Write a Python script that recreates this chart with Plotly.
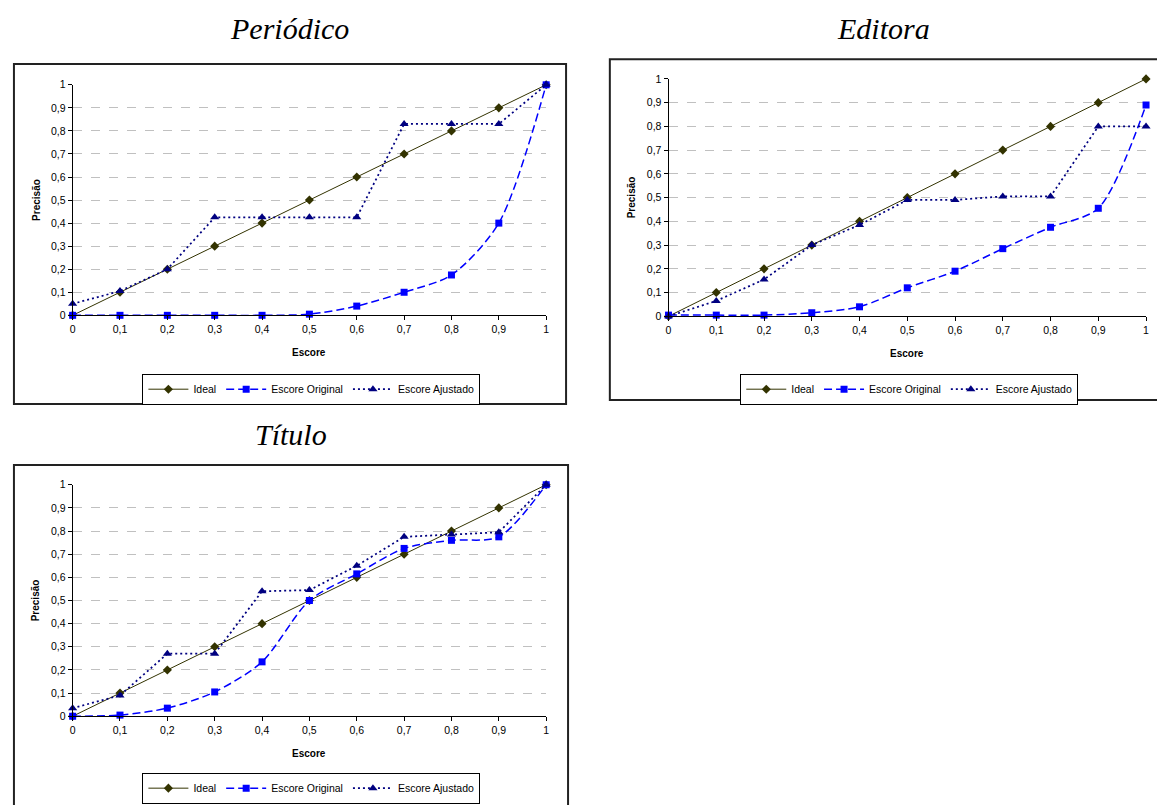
import plotly.graph_objects as go

# ---------------- data ----------------
x_vals = [0, 0.1, 0.2, 0.3, 0.4, 0.5, 0.6, 0.7, 0.8, 0.9, 1.0]
tick_labels = ["0", "0,1", "0,2", "0,3", "0,4", "0,5", "0,6", "0,7", "0,8", "0,9", "1"]
ideal = [0, 0.1, 0.2, 0.3, 0.4, 0.5, 0.6, 0.7, 0.8, 0.9, 1.0]

per_original = [0.0, 0.0, 0.0, 0.0, 0.0, 0.005, 0.04, 0.10, 0.175, 0.40, 1.0]
per_ajustado = [0.05, 0.105, 0.20, 0.425, 0.425, 0.425, 0.425, 0.83, 0.83, 0.83, 1.0]

edi_original = [0.005, 0.005, 0.005, 0.015, 0.04, 0.12, 0.19, 0.285, 0.375, 0.455, 0.89]
edi_ajustado = [0.0, 0.065, 0.155, 0.30, 0.385, 0.49, 0.49, 0.505, 0.505, 0.80, 0.80]

tit_original = [0.0, 0.005, 0.035, 0.105, 0.235, 0.50, 0.615, 0.725, 0.76, 0.775, 1.0]
tit_ajustado = [0.035, 0.09, 0.27, 0.27, 0.54, 0.545, 0.65, 0.775, 0.785, 0.795, 1.0]

series_names = ["Ideal", "Escore Original", "Escore Ajustado"]
panel_titles = ["Periódico", "Editora", "Título"]

W, H = 1157, 805


def px(x):
    return x / W


def py(y):
    return 1 - y / H


# panel geometry (pixels): plot area and outer box
panels = [
    dict(title=panel_titles[0], orig=per_original, adj=per_ajustado,
         plot=(70, 546, 80, 314), box=(11, 566, 59, 404),
         title_pos=(288, 23), legend_y=389),
    dict(title=panel_titles[1], orig=edi_original, adj=edi_ajustado,
         plot=(669, 1149, 74, 315), box=(610, 1165, 54, 400),
         title_pos=(885, 23), legend_y=389),
    dict(title=panel_titles[2], orig=tit_original, adj=tit_ajustado,
         plot=(70, 546, 486, 721), box=(11, 568, 466, 815),
         title_pos=(289, 435), legend_y=794),
]

IDEAL_C = "#333300"
ORIG_C = "#0000FF"
ADJ_C = "#000080"
FONT = "Liberation Sans, Arial, sans-serif"

fig = go.Figure()
shapes = []
annotations = []
layout_extra = {}

for i, p in enumerate(panels):
    n = "" if i == 0 else str(i + 1)
    xa, ya = "x" + n, "y" + n
    leg = "legend" + n
    x0, x1, y0, y1 = p["plot"]

    fig.add_trace(go.Scatter(
        x=x_vals, y=ideal, name=series_names[0], xaxis=xa, yaxis=ya, legend=leg,
        mode="lines+markers", cliponaxis=False,
        line=dict(color=IDEAL_C, width=1),
        marker=dict(symbol="diamond", size=7, color=IDEAL_C)))
    fig.add_trace(go.Scatter(
        x=x_vals, y=p["orig"], name=series_names[1], xaxis=xa, yaxis=ya, legend=leg,
        mode="lines+markers", cliponaxis=False,
        line=dict(color=ORIG_C, width=1.5, dash="8px,4px", shape="spline", smoothing=0.8),
        marker=dict(symbol="square", size=7, color=ORIG_C)))
    fig.add_trace(go.Scatter(
        x=x_vals, y=p["adj"], name=series_names[2], xaxis=xa, yaxis=ya, legend=leg,
        mode="lines+markers", cliponaxis=False,
        line=dict(color=ADJ_C, width=1.75, dash="2px,3px"),
        marker=dict(symbol="triangle-up", size=8, color=ADJ_C)))

    axis_common = dict(
        range=[0, 1], showline=True, linecolor="black", linewidth=1,
        ticks="outside", ticklen=4, tickcolor="black", tickwidth=1,
        tickvals=x_vals, ticktext=tick_labels,
        tickfont=dict(family=FONT, size=10.5, color="black"),
        zeroline=False, fixedrange=True,
    )
    layout_extra["xaxis" + n] = dict(
        axis_common, domain=[px(x0), px(x1)], anchor=ya, showgrid=False)
    layout_extra["yaxis" + n] = dict(
        axis_common, domain=[py(y1), py(y0)], anchor=xa, showgrid=True,
        gridcolor="#c0c0c0", gridwidth=1, griddash="dash")

    layout_extra[leg] = dict(
        orientation="h", x=px((x0 + x1) / 2 + 2), y=py(p["legend_y"]),
        xanchor="center", yanchor="middle", xref="paper", yref="paper",
        bordercolor="black", borderwidth=1, bgcolor="white",
        font=dict(family=FONT, size=10.5, color="black"),
        itemwidth=40, tracegroupgap=0)

    bx0, bx1, by0, by1 = p["box"]
    shapes.append(dict(type="rect", xref="paper", yref="paper",
                       x0=px(bx0), x1=px(bx1), y0=py(by1), y1=py(by0),
                       line=dict(color="#222222", width=2), layer="below"))

    tx, ty = p["title_pos"]
    annotations.append(dict(text="<i>" + p["title"] + "</i>", x=px(tx), y=py(ty),
                            xref="paper", yref="paper",
                            showarrow=False, xanchor="center", yanchor="middle",
                            font=dict(family="Liberation Serif, Times New Roman, serif",
                                      size=30, color="black")))

    annotations.append(dict(text="<b>Precisão</b>", x=px(x0 - 37), y=py((y0 + y1) / 2),
                            xref="paper", yref="paper", showarrow=False, textangle=-90,
                            xanchor="center", yanchor="middle",
                            font=dict(family=FONT, size=10, color="black")))
    annotations.append(dict(text="<b>Escore</b>", x=px((x0 + x1) / 2), y=py(y1 + 38),
                            xref="paper", yref="paper", showarrow=False,
                            xanchor="center", yanchor="middle",
                            font=dict(family=FONT, size=10, color="black")))

fig.update_layout(
    width=W, height=H, margin=dict(l=0, r=0, t=0, b=0),
    paper_bgcolor="white", plot_bgcolor="white",
    shapes=shapes, annotations=annotations,
    **layout_extra,
)

fig.write_html("out.html")
